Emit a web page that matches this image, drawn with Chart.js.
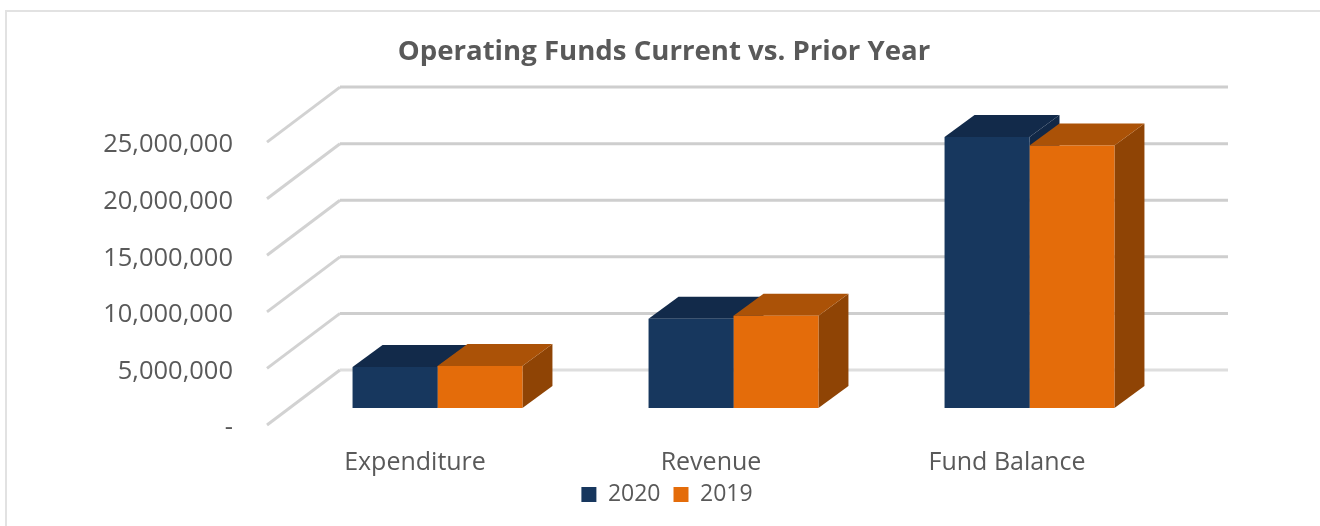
<!DOCTYPE html>
<html>
<head>
<meta charset="utf-8">
<script src="https://cdn.jsdelivr.net/npm/chart.js@4"></script>
<style>
html, body { margin: 0; background: #fff; overflow: hidden; }
#frame { position: absolute; left: 5px; top: 10px; width: 1320px; height: 520px; border-left: 2px solid #e2e2e2; border-top: 2px solid #e2e2e2; }
canvas { position: absolute; left: 0; top: 0; }
</style>
</head>
<body>
<div id="frame"></div>
<canvas id="funds" width="1320" height="526"></canvas>
<script>
// Operating funds chart
var categories = ["Expenditure", "Revenue", "Fund Balance"];
var values2020 = [3630000, 7890000, 23940000];
var values2019 = [3720000, 8160000, 23200000];
var tickValues = [0, 5000000, 10000000, 15000000, 20000000, 25000000];

var navy = { front: "#17375e", top: "#122a4a", side: "#112847" };
var orange = { front: "#e46c0a", top: "#ab5207", side: "#8f4405" };

// fake 3D: back wall offset and how far the bars sit into the depth
var wall = { dx: 73, dy: -55 };
var barShift = { dx: 22.5, dy: -17 };
var barDepth = { dx: 30, dy: -22 };

var fake3d = {
    id: 'fake3d',
    afterLayout: function (chart) {
        // legend sits a little right of the title in the original
        chart.legend.left += 3;
        chart.legend.right += 3;
        // category labels hang lower than the scale box, don't clip them
        chart.scales.x.bottom += 10;
    },
    beforeDatasetsDraw: function (chart) {
        var ctx = chart.ctx, y = chart.scales.y, area = chart.chartArea;
        ctx.save();
        ctx.lineWidth = 3;
        tickValues.forEach(function (v) {
            var py = y.getPixelForValue(v);
            ctx.beginPath();
            ctx.moveTo(area.left, py);
            ctx.lineTo(area.left + wall.dx, py + wall.dy);
            ctx.strokeStyle = "#d2d2d2";
            ctx.stroke();
            ctx.beginPath();
            ctx.moveTo(area.left + wall.dx, py + wall.dy);
            ctx.lineTo(area.right + wall.dx, py + wall.dy);
            ctx.strokeStyle = v === 0 ? "#dedede" : "#cecece";
            ctx.stroke();
        });
        // depth faces go first so the fronts cover them
        ctx.translate(barShift.dx, barShift.dy);
        categories.forEach(function (c, j) {
            chart.data.datasets.forEach(function (ds, i) {
                var bar = chart.getDatasetMeta(i).data[j];
                var l = bar.x - bar.width / 2, r = bar.x + bar.width / 2;
                ctx.fillStyle = ds.shades.side;
                ctx.beginPath();
                ctx.moveTo(r, bar.y);
                ctx.lineTo(r + barDepth.dx, bar.y + barDepth.dy);
                ctx.lineTo(r + barDepth.dx, bar.base + barDepth.dy);
                ctx.lineTo(r, bar.base);
                ctx.closePath();
                ctx.fill();
                ctx.fillStyle = ds.shades.top;
                ctx.beginPath();
                ctx.moveTo(l, bar.y);
                ctx.lineTo(l + barDepth.dx, bar.y + barDepth.dy);
                ctx.lineTo(r + barDepth.dx, bar.y + barDepth.dy);
                ctx.lineTo(r, bar.y);
                ctx.closePath();
                ctx.fill();
            });
        });
    },
    afterDatasetsDraw: function (chart) {
        chart.ctx.restore();
    }
};

new Chart(document.getElementById('funds'), {
    type: 'bar',
    data: {
        labels: categories,
        datasets: [
            { label: "2020", data: values2020, backgroundColor: navy.front, shades: navy },
            { label: "2019", data: values2019, backgroundColor: orange.front, shades: orange }
        ]
    },
    plugins: [fake3d],
    options: {
        responsive: false,
        animation: false,
        layout: { padding: { top: 0, right: 0, bottom: 10, left: 8 } },
        datasets: { bar: { categoryPercentage: 0.574, barPercentage: 1 } },
        plugins: {
            title: {
                display: true,
                text: "Operating Funds Current vs. Prior Year",
                color: "#595959",
                font: { family: "Open Sans", size: 27.6, weight: "bold" },
                padding: { top: 36, bottom: 73 }
            },
            legend: {
                position: 'bottom',
                labels: {
                    color: "#595959",
                    font: { family: "Open Sans", size: 23 },
                    boxWidth: 15,
                    boxHeight: 15,
                    padding: 13
                }
            },
            tooltip: { enabled: false }
        },
        scales: {
            x: {
                afterFit: function (scale) { scale.height = 45; },
                grid: { display: false },
                border: { display: false },
                ticks: { color: "#595959", font: { family: "Open Sans", size: 25 }, padding: 15, maxRotation: 0 }
            },
            y: {
                min: 0,
                max: 25000000,
                afterFit: function (scale) { scale.width = 259; },
                afterBuildTicks: function (scale) { scale.ticks = tickValues.map(function (v) { return { value: v }; }); },
                grid: { display: false },
                border: { display: false },
                ticks: {
                    color: "#595959",
                    font: { family: "Open Sans", size: 25.5 },
                    padding: 26,
                    labelOffset: 3,
                    callback: function (v) { return v === 0 ? "-" : v.toLocaleString("en-US"); }
                }
            },
            // empty axis only to keep room for the back wall on the right
            spacer: {
                position: 'right',
                afterFit: function (scale) { scale.width = 165; },
                grid: { display: false },
                border: { display: false },
                ticks: { display: false }
            }
        }
    }
});
</script>
</body>
</html>
